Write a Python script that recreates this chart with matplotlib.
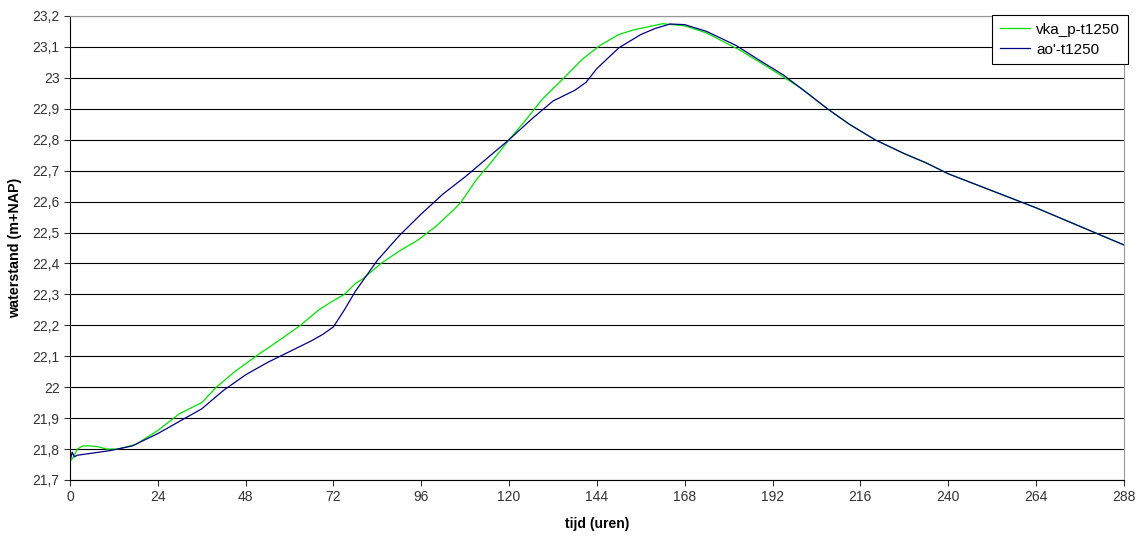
import matplotlib
matplotlib.use("Agg")
import matplotlib.pyplot as plt
from matplotlib.ticker import FuncFormatter, MultipleLocator

plt.rcParams['font.family'] = ['Liberation Sans', 'DejaVu Sans']

# uren vs waterstand
t_green = [0, 1, 2, 3.5, 5.5, 7.5, 10, 13, 18, 24, 30, 36, 40, 45, 52, 57, 63, 68, 72, 75,
           78, 80, 85, 90, 95, 100, 105, 107, 111, 115, 120, 125, 129, 135, 140, 145, 150,
           154, 158, 162, 168, 174, 183, 190, 200, 207, 213, 220, 228, 234, 240, 252, 264, 276, 288]
h_green = [21.76, 21.775, 21.80, 21.81, 21.81, 21.808, 21.80, 21.80, 21.815, 21.86, 21.915,
           21.95, 22.0, 22.05, 22.11, 22.15, 22.20, 22.25, 22.28, 22.30, 22.335, 22.35, 22.40,
           22.44, 22.475, 22.52, 22.575, 22.60, 22.67, 22.725, 22.80, 22.87, 22.93, 23.0, 23.06,
           23.106, 23.14, 23.155, 23.165, 23.175, 23.168, 23.145, 23.09, 23.04, 22.965, 22.90,
           22.85, 22.80, 22.755, 22.725, 22.69, 22.635, 22.58, 22.52, 22.46]

t_blue = [0, 0.6, 1.2, 2, 5, 11, 17, 24, 30, 36, 42, 48, 54, 60, 66, 69, 72, 75, 78, 81, 84,
          90, 96, 102, 108, 114, 120, 126, 132, 138, 141, 144, 150, 156, 160, 164, 168, 174,
          182, 188, 195, 201, 207, 213, 220, 228, 234, 240, 252, 264, 276, 288]
h_blue = [21.76, 21.79, 21.775, 21.78, 21.785, 21.795, 21.81, 21.85, 21.89, 21.93, 21.99,
          22.04, 22.08, 22.115, 22.15, 22.17, 22.195, 22.25, 22.31, 22.36, 22.41, 22.49, 22.56,
          22.625, 22.68, 22.74, 22.80, 22.865, 22.925, 22.96, 22.985, 23.03, 23.097, 23.14,
          23.16, 23.174, 23.172, 23.15, 23.105, 23.06, 23.009, 22.955, 22.90, 22.85, 22.80,
          22.755, 22.725, 22.69, 22.635, 22.58, 22.52, 22.46]

labels = ["vka_p-t1250", "ao'-t1250"]

fig = plt.figure(figsize=(11.38, 5.36), dpi=100)
ax = fig.add_axes([0.0615, 0.1045, 0.926, 0.8657])

ax.plot(t_green, h_green, color='#00e000', lw=0.9, label=labels[0])
ax.plot(t_blue, h_blue, color='#000080', lw=0.9, label=labels[1])

ax.set_xlim(0, 288)
ax.set_ylim(21.7, 23.2)
ax.xaxis.set_major_locator(MultipleLocator(24))
ax.yaxis.set_major_locator(MultipleLocator(0.1))
ax.yaxis.set_major_formatter(FuncFormatter(lambda v, p: ('%g' % round(v, 1)).replace('.', ',')))

ax.grid(axis='y', color='black', lw=0.8)
ax.set_axisbelow(True)
for s in ['top', 'right']:
    ax.spines[s].set_color('#999999')
for s in ['left', 'bottom']:
    ax.spines[s].set_color('black')
ax.tick_params(direction='out', length=4, width=0.8, labelsize=10, colors='#333333')

ax.set_xlabel('tijd (uren)', fontsize=10, fontweight='bold', labelpad=9)
ax.set_ylabel('waterstand (m+NAP)', fontsize=10.3, fontweight='bold', labelpad=7)

leg = ax.legend(loc='upper right', bbox_to_anchor=(0.991, 0.972), bbox_transform=fig.transFigure,
                fancybox=False, edgecolor='black', framealpha=1, fontsize=11,
                borderaxespad=0, handlelength=2.0, handletextpad=0.4, borderpad=0.5,
                labelspacing=0.4)
leg.get_frame().set_linewidth(0.8)

fig.savefig('out.png', dpi=100)
